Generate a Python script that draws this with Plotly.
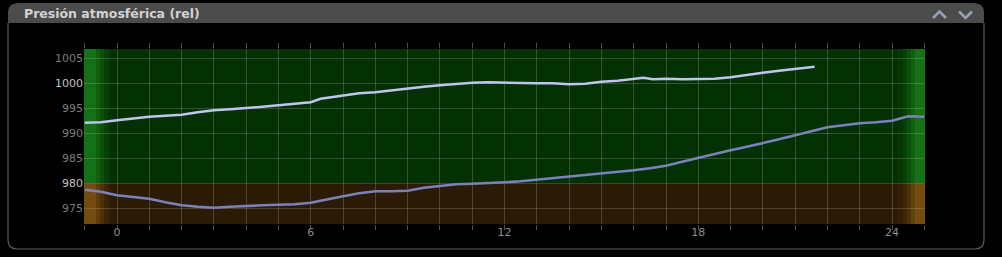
import plotly.graph_objects as go

# ---------------- data ----------------
title_text = "Presión atmosférica (rel)"

hours_now = [-1.0, -0.5, 0, 0.5, 1, 1.5, 2, 2.5, 3, 3.5, 4, 4.5, 5, 5.5, 6, 6.3, 6.6, 7, 7.5, 8,
             8.5, 9, 9.5, 10, 10.5, 11, 11.5, 12, 12.5, 13, 13.5, 14, 14.5, 15, 15.5, 16, 16.3,
             16.6, 17, 17.5, 18, 18.5, 19, 19.5, 20, 20.5, 21, 21.6]
press_now = [992.1, 992.2, 992.6, 993.0, 993.3, 993.5, 993.7, 994.2, 994.6, 994.8, 995.0, 995.3,
             995.6, 995.9, 996.2, 996.9, 997.2, 997.6, 998.0, 998.2, 998.6, 999.0, 999.3, 999.6,
             999.9, 1000.1, 1000.2, 1000.1, 1000.1, 1000.0, 1000.0, 999.8, 999.9, 1000.3, 1000.5,
             1000.9, 1001.1, 1000.8, 1000.9, 1000.8, 1000.9, 1000.9, 1001.2, 1001.7, 1002.1,
             1002.5, 1002.9, 1003.3]

hours_prev = [-1.0, -0.5, 0, 0.5, 1, 1.5, 2, 2.5, 3, 3.5, 4, 4.5, 5, 5.5, 6, 6.5, 7, 7.5, 8, 8.5,
              9, 9.5, 10, 10.5, 11, 11.5, 12, 12.5, 13, 13.5, 14, 14.5, 15, 15.5, 16, 16.5, 17,
              17.5, 18, 18.5, 19, 19.5, 20, 20.5, 21, 21.5, 22, 22.5, 23, 23.5, 24, 24.5, 25]
press_prev = [978.7, 978.3, 977.6, 977.3, 976.9, 976.2, 975.6, 975.3, 975.1, 975.3, 975.5, 975.6,
              975.7, 975.8, 976.1, 976.8, 977.4, 978.0, 978.4, 978.4, 978.5, 979.1, 979.5, 979.8,
              979.9, 980.0, 980.2, 980.4, 980.7, 981.0, 981.3, 981.6, 982.0, 982.3, 982.6, 983.0,
              983.5, 984.3, 985.1, 985.8, 986.6, 987.3, 988.0, 988.8, 989.6, 990.4, 991.2, 991.6,
              992.0, 992.2, 992.5, 993.4, 993.3]

x_ticks = list(range(-1, 26))
x_labels = [str(h) if h % 6 == 0 and h >= 0 else "" for h in x_ticks]
y_ticks = [975, 980, 985, 990, 995, 1000, 1005]
y_bright = [980, 1000]
threshold = 980

# ---------------- geometry ----------------
W, H = 1002, 257
L, R, T, B = 84, 925, 49, 224
X_RANGE = [-1.022, 25.02]
Y_RANGE = [971.86, 1006.86]


def px(x):
    return (x - L) / (R - L)


def py(y):
    return (B - y) / (B - T)


def P(x, y):
    return f"{px(x):.5f},{py(y):.5f}"


fig = go.Figure()

fig.add_trace(go.Scatter(x=hours_prev, y=press_prev, mode="lines",
                         line=dict(color="#7b82bb", width=2.6), hoverinfo="skip",
                         showlegend=False))
fig.add_trace(go.Scatter(x=hours_now, y=press_now, mode="lines",
                         line=dict(color="#c0c5f0", width=2.6), hoverinfo="skip",
                         showlegend=False))
for ax in ("x2", "x3"):
    fig.add_trace(go.Scatter(x=[X_RANGE[0]], y=[Y_RANGE[0]], xaxis=ax, mode="markers",
                             marker=dict(opacity=0), hoverinfo="skip", showlegend=False))

shapes = []
# panel header
r = 10
header = (f"M {P(8, 23)} L {P(8, 3 + r)} Q {P(8, 3)} {P(8 + r, 3)} "
          f"L {P(984 - r, 3)} Q {P(984, 3)} {P(984, 3 + r)} L {P(984, 23)} Z")
shapes.append(dict(type="path", xref="paper", yref="paper", path=header,
                   fillcolor="#4b4b4b", line=dict(width=0), layer="below"))
rb = 9
border = (f"M {P(8, 23)} L {P(8, 249 - rb)} Q {P(8, 249)} {P(8 + rb, 249)} "
          f"L {P(984 - rb, 249)} Q {P(984, 249)} {P(984, 249 - rb)} L {P(984, 23)}")
shapes.append(dict(type="path", xref="paper", yref="paper", path=border,
                   line=dict(color="#5e5e5e", width=1.2), layer="below"))
# arrows
shapes.append(dict(type="path", xref="paper", yref="paper",
                   path=f"M {P(933, 18)} L {P(939.5, 11.5)} L {P(946, 18)}",
                   line=dict(color="#9a9fb6", width=2.6)))
shapes.append(dict(type="path", xref="paper", yref="paper",
                   path=f"M {P(959, 11.5)} L {P(965.5, 18)} L {P(972, 11.5)}",
                   line=dict(color="#9a9fb6", width=2.6)))

# zones
shapes.append(dict(type="rect", xref="paper", yref="y", x0=0, x1=1, y0=threshold, y1=Y_RANGE[1],
                   fillcolor="#033103", line=dict(width=0), layer="below"))
shapes.append(dict(type="rect", xref="paper", yref="y", x0=0, x1=1, y0=Y_RANGE[0], y1=threshold,
                   fillcolor="#2b1a05", line=dict(width=0), layer="below"))

# edge glows
def glow(x0, x1, op):
    shapes.append(dict(type="rect", xref="paper", yref="y", x0=px(x0), x1=px(x1),
                       y0=threshold, y1=Y_RANGE[1], fillcolor="#22a022", opacity=op,
                       line=dict(width=0), layer="below"))
    shapes.append(dict(type="rect", xref="paper", yref="y", x0=px(x0), x1=px(x1),
                       y0=Y_RANGE[0], y1=threshold, fillcolor="#a87018", opacity=op,
                       line=dict(width=0), layer="below"))

left_steps = [(84, 96, 0.58), (96, 100, 0.42), (100, 104, 0.28), (104, 108, 0.14), (108, 111, 0.06)]
for a, b, o in left_steps:
    glow(a, b, o)
right_steps = [(898, 903, 0.06), (903, 907, 0.14), (907, 911, 0.28), (911, 915, 0.45),
               (915, 925, 0.6)]
for a, b, o in right_steps:
    glow(a, b, o)

fig.update_layout(shapes=shapes)

fig.add_annotation(text=f"<b>{title_text}</b>", xref="paper", yref="paper",
                   x=px(22), y=py(13.5), xanchor="left", yanchor="middle", showarrow=False,
                   font=dict(family="DejaVu Sans", size=12.5, color="#d2d2d2"))

grid_col = "rgba(165,165,140,0.3)"
tick_col = "#505050"
fig.update_layout(
    width=W, height=H,
    margin=dict(l=L, r=W - R, t=T, b=H - B),
    paper_bgcolor="#000000", plot_bgcolor="#000000",
    font=dict(family="DejaVu Sans", size=11, color="#8a8a8a"),
    xaxis=dict(range=X_RANGE, tickvals=x_ticks, ticktext=x_labels, showgrid=True,
               gridcolor=grid_col, gridwidth=1, zeroline=False, showline=False,
               ticks="", tickfont=dict(size=11, color="#8c8c8c")),
    xaxis2=dict(range=X_RANGE, overlaying="x", side="top", tickvals=x_ticks,
                showticklabels=False, showgrid=False, zeroline=False, showline=False,
                ticks="outside", ticklen=5, tickcolor=tick_col, tickwidth=1),
    xaxis3=dict(range=X_RANGE, overlaying="x", side="bottom", tickvals=x_ticks,
                showticklabels=False, showgrid=False, zeroline=False, showline=False,
                ticks="outside", ticklen=5, tickcolor=tick_col, tickwidth=1),
    yaxis=dict(range=Y_RANGE, tickvals=y_ticks,
               ticktext=[f"<span style='color:#c4c4c4'>{v}</span>" if v in y_bright else str(v)
                         for v in y_ticks],
               showgrid=True, gridcolor=grid_col, gridwidth=1, zeroline=False,
               showline=False, ticks="", tickfont=dict(size=11, color="#7c7c7c")),
)

fig.write_html("out.html")
